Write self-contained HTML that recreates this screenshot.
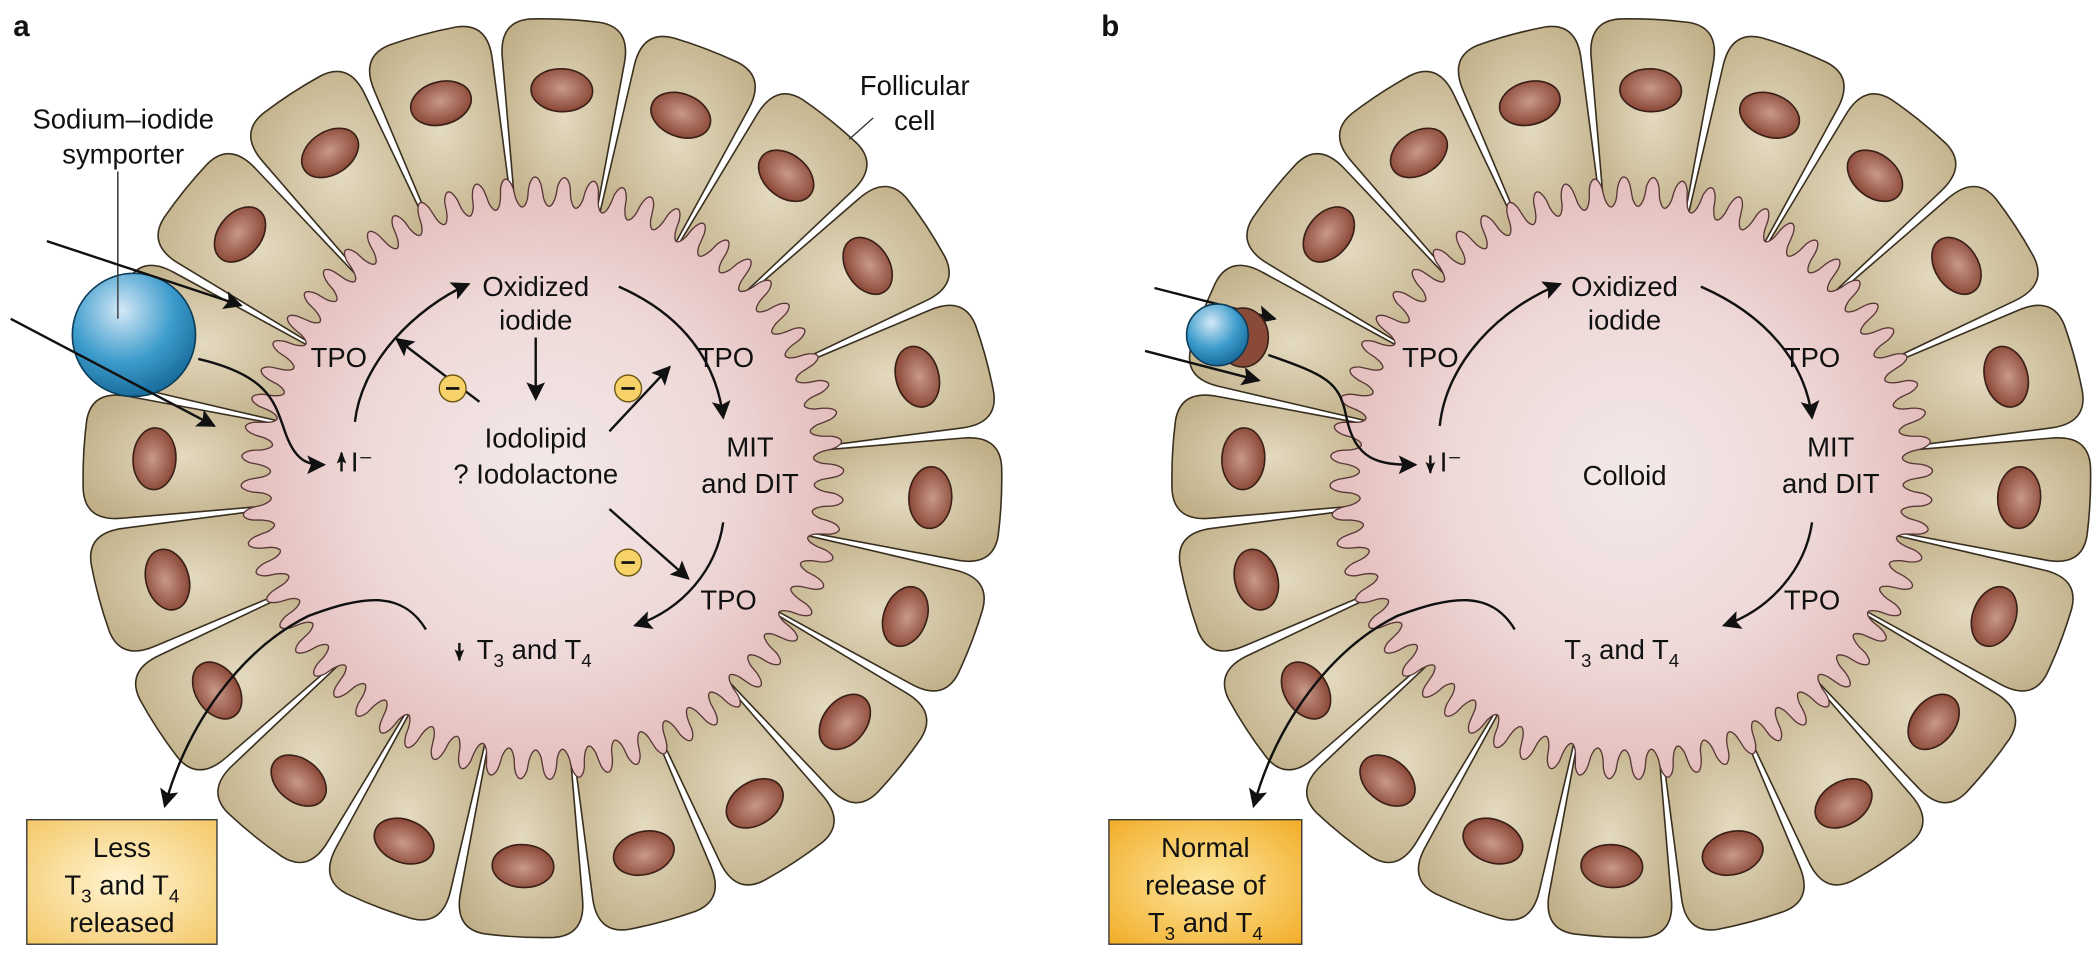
<!DOCTYPE html>
<html><head><meta charset="utf-8"><style>
html,body{margin:0;padding:0;background:#fff;width:2100px;height:955px;overflow:hidden}
svg{display:block}
text{font-family:"Liberation Sans",sans-serif;fill:#111}
</style></head><body>
<svg id="s" width="2100" height="955" viewBox="0 0 1568 713" xmlns="http://www.w3.org/2000/svg">
<defs>
<radialGradient id="cellg" cx="50%" cy="50%" r="60%"><stop offset="0" stop-color="#e4dac0"/><stop offset="1" stop-color="#bfae86"/></radialGradient>
<radialGradient id="lum" cx="50%" cy="50%" r="50%"><stop offset="0" stop-color="#f3e9e9"/><stop offset="0.6" stop-color="#eed9d8"/><stop offset="1" stop-color="#e3bdbb"/></radialGradient>
<radialGradient id="nuc" cx="50%" cy="45%" r="55%"><stop offset="0" stop-color="#c89a8a"/><stop offset="1" stop-color="#8a4636"/></radialGradient>
<radialGradient id="blue" cx="40%" cy="30%" r="70%"><stop offset="0" stop-color="#d4e8f6"/><stop offset="0.6" stop-color="#3d9ccc"/><stop offset="1" stop-color="#1a6e9e"/></radialGradient>
<radialGradient id="boxa" cx="50%" cy="50%" r="70%"><stop offset="0" stop-color="#fff4d2"/><stop offset="1" stop-color="#f4c868"/></radialGradient>
<radialGradient id="boxb" cx="50%" cy="50%" r="70%"><stop offset="0" stop-color="#fde7a0"/><stop offset="1" stop-color="#f2ad28"/></radialGradient>
<marker id="ah" viewBox="0 0 10 10" refX="9" refY="5" markerWidth="9" markerHeight="9" orient="auto" markerUnits="userSpaceOnUse"><path d="M0,1 L10,5 L0,9 L2,5 Z" fill="#111"/></marker>
<marker id="ah2" viewBox="0 0 10 10" refX="9" refY="5" markerWidth="20" markerHeight="14" orient="auto" markerUnits="userSpaceOnUse"><path d="M0,0 L10,5 L0,10 L2,5 Z" fill="#111"/></marker>
</defs>
<g id="fa"></g><g id="fb"></g>
</svg>
<script>
const NS="http://www.w3.org/2000/svg";
function el(p,t,a,txt){const e=document.createElementNS(NS,t);for(const k in a)e.setAttribute(k,a[k]);if(txt!=null)e.textContent=txt;p.appendChild(e);return e;}
function P(cx,cy,r,a){return [cx+r*Math.cos(a),cy+r*Math.sin(a)];}
function follicle(g,cx,cy,sx,sy){
 const N=20,rin=200,rout=343,off=-Math.PI/2-Math.PI/N+0.05;
 for(let i=0;i<N;i++){
  const a0=off+i*2*Math.PI/N,a1=a0+2*Math.PI/N,gi=0.006,go=0.012,c=0.07;
  const p1=P(cx,cy,rin,a0+gi),p2=P(cx,cy,rout-28,a0+go),q1=P(cx,cy,rout,a0+go),p3=P(cx,cy,rout,a0+go+c),
   p4=P(cx,cy,rout,a1-go-c),q2=P(cx,cy,rout,a1-go),p5=P(cx,cy,rout-28,a1-go),p6=P(cx,cy,rin,a1-gi);
  el(g,"path",{d:`M${p1} L${p2} Q${q1} ${p3} A${rout} ${rout} 0 0 1 ${p4} Q${q2} ${p5} L${p6} Z`,fill:"url(#cellg)",stroke:"#3a3020","stroke-width":1.2});
  const am=(a0+a1)/2,n=P(cx,cy,290,am);
  if(Math.hypot(n[0]-sx,n[1]-sy)<60) continue;
  el(g,"ellipse",{cx:n[0],cy:n[1],rx:23,ry:16,transform:`rotate(${am*180/Math.PI+90} ${n[0]} ${n[1]})`,fill:"url(#nuc)",stroke:"#3a2018","stroke-width":1.2});
 }
 let d="";const M=1440,k=64;
 for(let j=0;j<=M;j++){const t=j/M*2*Math.PI;const s=Math.sin(k*t);const r=214-11*(s>0?Math.pow(s,0.6):-Math.pow(-s,0.6));const p=P(cx,cy,r,t);d+=(j?"L":"M")+p[0].toFixed(1)+","+p[1].toFixed(1);}
 el(g,"path",{d:d+"Z",fill:"url(#lum)",stroke:"#5a3838","stroke-width":1});
}
follicle(document.getElementById("fa"),405,357,100,250);
follicle(document.getElementById("fb"),1218,357,912,250);
const s=document.getElementById("s");
el(s,"line",{x1:88,y1:128,x2:88,y2:238,stroke:"#333","stroke-width":1});
el(s,"circle",{cx:100,cy:250,r:46,fill:"url(#blue)",stroke:"#0d3c58","stroke-width":1.2});
el(s,"line",{x1:88,y1:128,x2:88,y2:238,stroke:"#333","stroke-width":1});
el(s,"line",{x1:652,y1:88,x2:634,y2:104,stroke:"#333","stroke-width":1});
const ov2=el(s,"g",{fill:"none",stroke:"#111","stroke-width":1.8});
function L(d,m){el(ov2,"path",{d:d,"marker-end":m?"url(#"+m+")":""});}
L("M35,180 L180,228","ah2");L("M8,238 L160,318","ah2");
L("M148,268 C200,280 205,300 212,320 C220,345 230,347 242,347","ah2");
L("M265,315 C270,270 310,230 350,212","ah2");
L("M400,252 L400,298","ah2");L("M358,300 L296,253","ah2");
L("M455,322 L500,274","ah2");L("M455,380 L514,432","ah2");
L("M462,214 C510,235 535,270 540,312","ah2");
L("M540,390 C535,425 510,455 474,467","ah2");
L("M318,470 C300,440 270,445 230,460 C180,485 140,540 123,602","ah2");
L("M343,480 L343,493","ah");L("M255,352 L255,338","ah");
el(s,"ellipse",{cx:928,cy:252,rx:19,ry:22,fill:"#8a4a38",stroke:"#3a2018","stroke-width":1.2});
el(s,"circle",{cx:909,cy:250,r:23,fill:"url(#blue)",stroke:"#0d3c58","stroke-width":1.2});
L("M862,215 L952,238","ah2");L("M855,262 L940,284","ah2");
L("M947,265 C990,280 1000,285 1005,310 C1012,345 1030,347 1057,347","ah2");
L("M1068,340 L1068,353","ah");
L("M1075,318 C1080,270 1120,230 1165,212","ah2");
L("M1270,214 C1318,235 1348,270 1353,312","ah2");
L("M1353,390 C1348,425 1322,455 1287,467","ah2");
L("M1131,470 C1113,440 1083,445 1043,460 C993,485 953,540 936,602","ah2");
el(s,"rect",{x:20,y:612,width:142,height:93,fill:"url(#boxa)",stroke:"#333","stroke-width":1});
el(s,"rect",{x:828,y:612,width:144,height:93,fill:"url(#boxb)",stroke:"#333","stroke-width":1});
const FS=20.5;
function T(x,y,t,sz,anc,w){el(s,"text",{x:x,y:y,"font-size":sz||FS,"text-anchor":anc||"middle","font-weight":w||"normal"},t);}
function TH(x,y,html,sz,anc){const e=el(s,"text",{x:x,y:y,"font-size":sz||FS,"text-anchor":anc||"middle"});e.innerHTML=html;}
const T34='T<tspan font-size="14" dy="6">3</tspan><tspan dy="-6"> and T</tspan><tspan font-size="14" dy="6">4</tspan>';
T(16,27,"a",22,"middle","bold");T(829,27,"b",22,"middle","bold");
T(92,96,"Sodium–iodide");T(92,122,"symporter");
T(683,71,"Follicular");T(683,97,"cell");
T(253,274,"TPO");T(400,221,"Oxidized");T(400,246,"iodide");T(542,274,"TPO");
T(400,334,"Iodolipid");T(400,361,"? Iodolactone");
T(560,341,"MIT");T(560,368,"and DIT");T(544,455,"TPO");
T(262,352,"I⁻",FS,"start");
TH(356,492,T34,FS,"start");
T(91,640,"Less");TH(91,668,T34);T(91,696,"released");
[[338,290],[469,290],[469,420]].forEach(p=>{el(s,"circle",{cx:p[0],cy:p[1],r:10,fill:"#f6d268",stroke:"#6a5410","stroke-width":1});el(s,"line",{x1:p[0]-5,y1:p[1],x2:p[0]+5,y2:p[1],stroke:"#111","stroke-width":2});});
T(1068,274,"TPO");T(1213,221,"Oxidized");T(1213,246,"iodide");T(1353,274,"TPO");
T(1213,362,"Colloid");T(1367,341,"MIT");T(1367,368,"and DIT");T(1353,455,"TPO");
T(1075,352,"I⁻",FS,"start");
TH(1168,492,T34,FS,"start");
T(900,640,"Normal");T(900,668,"release of");TH(900,696,T34);
</script>
</body></html>
